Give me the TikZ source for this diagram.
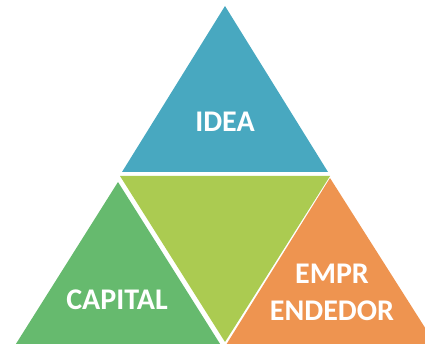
\documentclass[tikz,border=0pt]{standalone}
\usepackage{fontspec}
\setmainfont{Carlito}
\usetikzlibrary{calc}

\definecolor{ideablue}{HTML}{48A8C0}
\definecolor{midgreen}{HTML}{ABCB51}
\definecolor{capgreen}{HTML}{66BA6E}
\definecolor{emporange}{HTML}{EE9450}

\begin{document}
\begin{tikzpicture}[x=1pt, y=-1pt,
every node/.style = {text=white, font=\bfseries\fontsize{30}{37}\selectfont, align=center, inner sep=0pt}]

  \clip (0,0) rectangle (425,344);

  \fill[ideablue]  (225,6) -- (122,172) -- (328,172) -- cycle;
  \fill[midgreen]  (120,176) -- (330,176) -- (225,342) -- cycle;
  \fill[capgreen]  (118,182) -- (14,347) -- (222,347) -- cycle;
  \fill[emporange] (330,178) -- (226,345) -- (436,345) -- cycle;

  \node (idea) at (225,122) {IDEA};
  \node (capital) at (117,300) {CAPITAL};
  \node (emprendedor) at (332,292) {EMPR\\ENDEDOR};
\end{tikzpicture}
\end{document}
